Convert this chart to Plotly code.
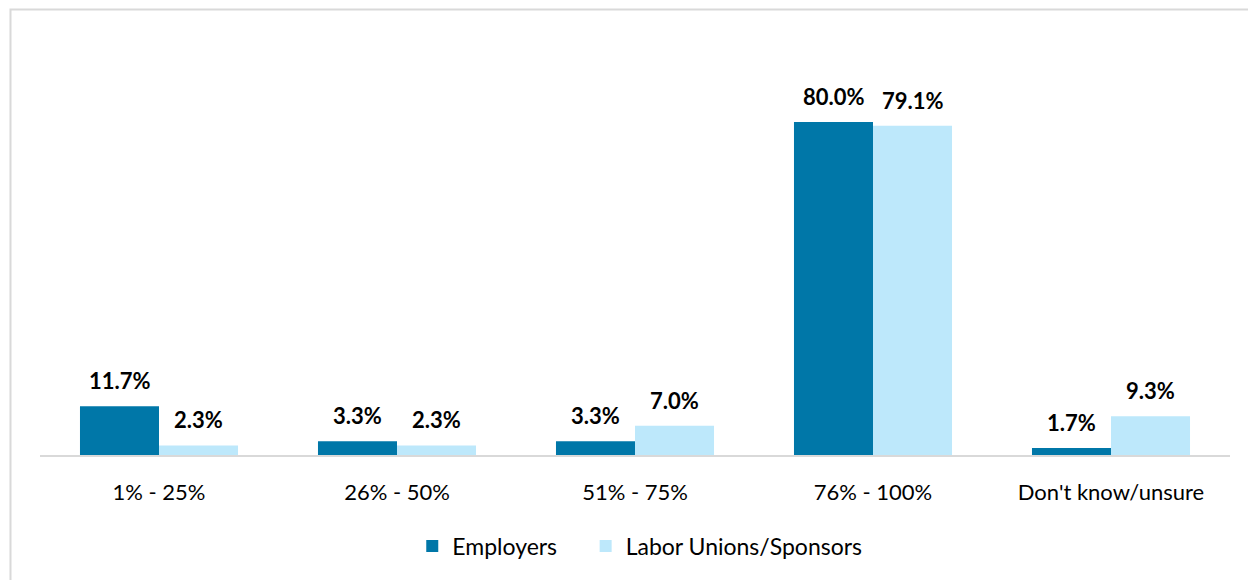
import plotly.graph_objects as go

# Share of eligible workers, by response band
categories = ["1% - 25%", "26% - 50%", "51% - 75%", "76% - 100%", "Don't know/unsure"]
employers = [11.7, 3.3, 3.3, 80.0, 1.7]
unions = [2.3, 2.3, 7.0, 79.1, 9.3]

series = [
    ("Employers", employers, "#0077A8"),
    ("Labor Unions/Sponsors", unions, "#BDE8FB"),
]

FONT = "Lato, Carlito, Calibri, sans-serif"
BAR_PX = 79  # rendered bar width, used to centre value labels over each bar
LEGEND_PAD = "\u00a0" * 4  # extra room between legend entries

fig = go.Figure()
for i, (name, vals, color) in enumerate(series):
    fig.add_trace(go.Bar(
        name=name + (LEGEND_PAD if i == 0 else ""), x=categories, y=vals,
        marker=dict(color=color, line=dict(width=0)),
    ))

annotations = []
for i, (name, vals, color) in enumerate(series):
    shift = (-0.5 if i == 0 else 0.5) * BAR_PX
    for cat, v in zip(categories, vals):
        annotations.append(dict(
            x=cat, y=v, xref="x", yref="y", text=f"<b>{v:.1f}%</b>",
            showarrow=False, yanchor="bottom", xshift=shift, yshift=10,
            font=dict(family=FONT, size=22, color="#000000"),
        ))

fig.update_layout(
    width=1248, height=580,
    margin=dict(l=40, r=18, t=85, b=125),
    paper_bgcolor="white", plot_bgcolor="white",
    barmode="group", bargap=0.336, bargroupgap=0,
    font=dict(family=FONT, size=22, color="#000000"),
    showlegend=True,
    legend=dict(orientation="h", x=0.504, xanchor="center", y=-0.246, yanchor="middle",
                font=dict(family=FONT, size=23), itemwidth=30, traceorder="normal"),
    annotations=annotations,
    shapes=[dict(type="rect", xref="paper", yref="paper",
                 x0=-0.0248, x1=1.2, y0=-0.6, y1=1.204,
                 line=dict(color="#D9D9D9", width=2), fillcolor="rgba(0,0,0,0)")],
)
fig.update_xaxes(showline=True, linecolor="#D9D9D9", linewidth=2, ticks="",
                 ticklabelstandoff=17, tickfont=dict(family=FONT, size=22),
                 showgrid=False, zeroline=False)
fig.update_yaxes(range=[0, 88.9], visible=False, showgrid=False, zeroline=False)

fig.write_html("out.html")
